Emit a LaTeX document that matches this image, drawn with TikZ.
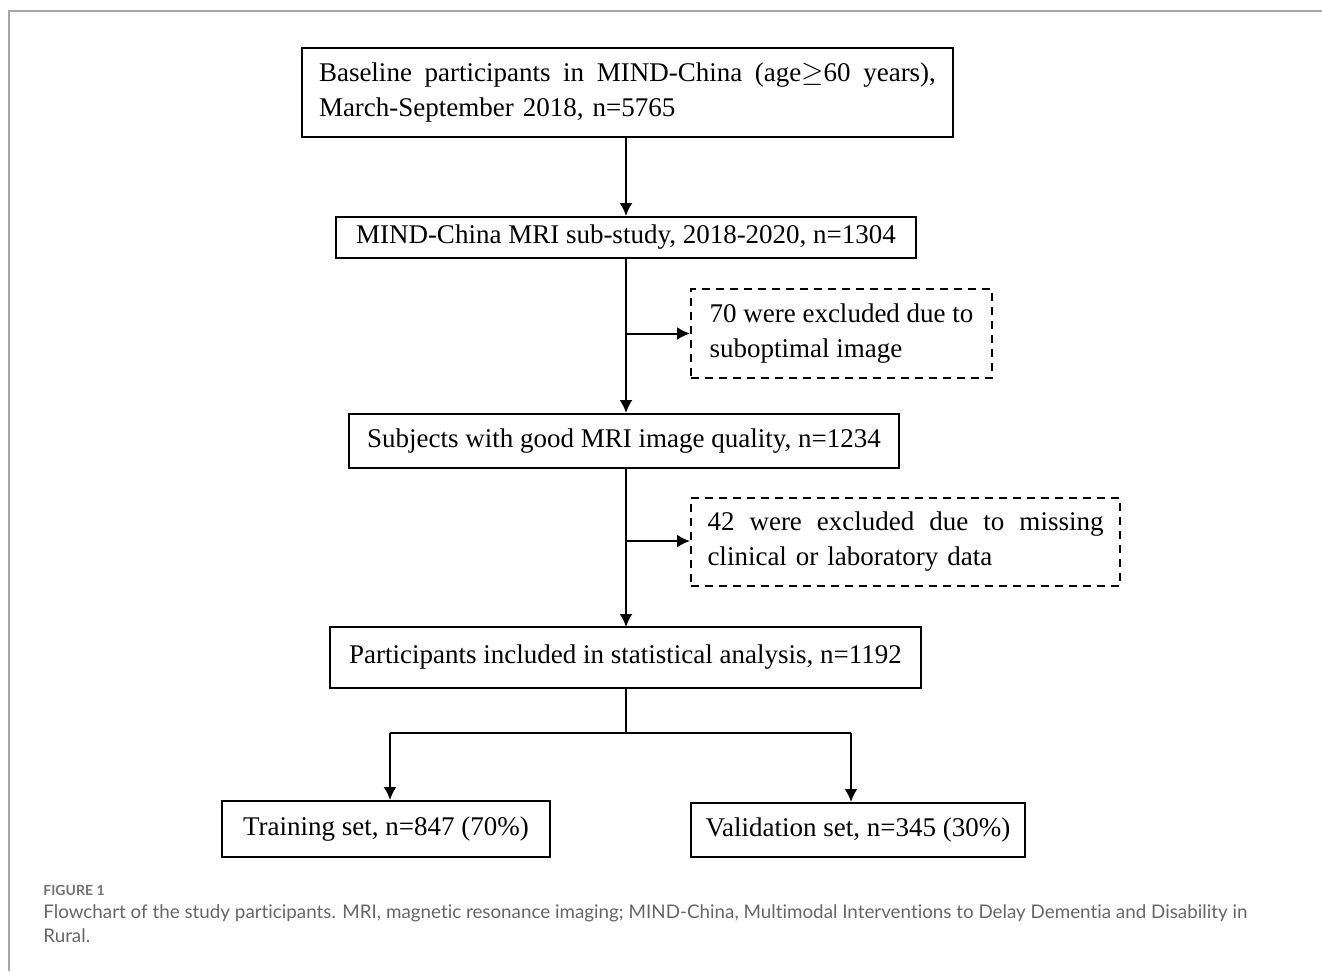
\documentclass[tikz,border=0pt]{standalone}
\usepackage{fontspec}
\setmainfont{Liberation Serif}
\newfontfamily\capfont[Ligatures=NoCommon]{Lato}
\usetikzlibrary{arrows,arrows.meta}

\tikzset{
  flowbox/.style={draw, line width=1pt, inner xsep=8.5pt, inner ysep=0pt,
    font=\fontsize{13.5}{17.5}\selectfont},
  exclbox/.style={flowbox, dash pattern=on 4pt off 3pt, inner xsep=8.25pt, align=left},
  flowline/.style={line width=1pt, -{Latex[length=6.5pt,width=6.5pt]}},
  captext/.style={anchor=base west, inner sep=0pt, text=black!60,
    font=\capfont\fontsize{9.4}{12}\selectfont}
}

\begin{document}
\begin{tikzpicture}[x=0.5pt,y=-0.5pt]
\useasboundingbox (0,0) rectangle (1322,971);
% frame
\draw[black!35, line width=1pt] (9,971) -- (9,11) -- (1322,11);

% main boxes
\node[flowbox, minimum width=325.5pt, minimum height=44.5pt, text width=308.5pt, align=left] (base) at (627.5,92.5)
  {\hbox to \linewidth{Baseline\hfill participants\hfill in\hfill MIND-China\hfill (age$\geq$60\hfill years),}\\March-September 2018, n=5765};
\node[flowbox, minimum width=290pt, minimum height=20.5pt] (mri) at (626,237.5)
  {MIND-China MRI sub-study, 2018-2020, n=1304};
\node[flowbox, minimum width=275pt, minimum height=27pt] (good) at (624,441)
  {Subjects with good MRI image quality, n=1234};
\node[flowbox, minimum width=295.5pt, minimum height=30.5pt] (incl) at (625.5,657.5)
  {Participants included in statistical analysis, n=1192};
\node[flowbox, minimum width=164pt, minimum height=28pt] (train) at (386,829)
  {Training set, n=847 (70\%)};
\node[flowbox, minimum width=167pt, minimum height=27pt, inner xsep=5pt] (valid) at (858,830)
  {Validation set, n=345 (30\%)};

% exclusions
\node[exclbox, minimum width=150.5pt, minimum height=44.5pt, inner xsep=8pt] (ex1) at (841.5,333.5)
  {70 were excluded due to\\suboptimal image};
\node[exclbox, text width=198pt, minimum height=44pt] (ex2) at (905.5,542)
  {\hbox to \linewidth{42\hfill were\hfill excluded\hfill due\hfill to\hfill missing}\\clinical or laboratory data};

% connectors
\draw[flowline] (base.south -| mri) -- (mri.north);
\draw[flowline] (mri.south) -- (mri.south |- good.north);
\draw[flowline] (mri.south |- ex1.west) -- (ex1.west);
\draw[flowline] (626,468) -- (626,627);
\draw[flowline] (626,541) -- (ex2.west |- 626,541);
\coordinate (split) at (626,733);
\coordinate (splitL) at (390,733);
\coordinate (splitR) at (851,733);
\draw[line width=1pt] (incl.south -| split) -- (split);
\draw[line width=1pt] (splitL) -- (splitR);
\draw[flowline] (splitL) -- (splitL |- train.north);
\draw[flowline] (splitR) -- (splitR |- valid.north);

% caption
\node[captext, font=\capfont\bfseries\fontsize{7}{8}\selectfont, text=black!55] (fig) at (43,895) {FIGURE 1};
\node[captext] (cap1) at (43,918) {Flowchart of the study participants. MRI, magnetic resonance imaging; MIND-China, Multimodal Interventions to Delay Dementia and Disability in};
\node[captext] (cap2) at (43,942) {Rural.};
\end{tikzpicture}
\end{document}
